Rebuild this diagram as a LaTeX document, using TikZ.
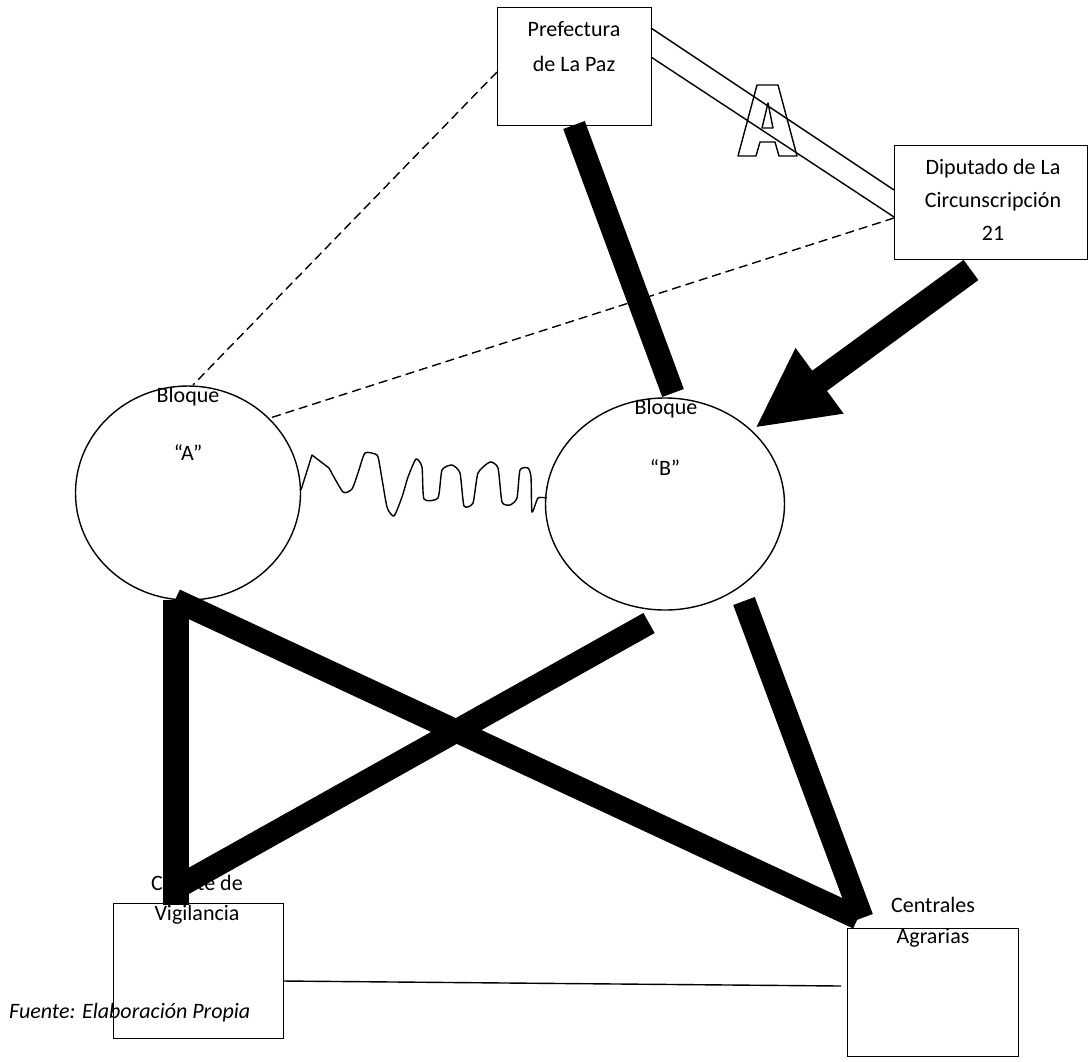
\documentclass[tikz,border=0pt]{standalone}
\usepackage{fontspec}
\setmainfont{Carlito}
\usetikzlibrary{arrows.meta,shapes.geometric}
\tikzset{
  box/.style={draw, line width=1.4pt, inner sep=0pt, anchor=north west},
  blob/.style={draw, ellipse, line width=1.4pt, inner sep=0pt},
  lbl/.style={inner sep=0pt, align=center},
  thinln/.style={line width=1.4pt},
  dashln/.style={line width=1.4pt, dash pattern=on 9pt off 5pt},
  bar/.style={line width=23pt, line cap=butt},
}
\begin{document}
\begin{tikzpicture}[x=1pt,y=-1pt]
\useasboundingbox (0,0) rectangle (1089,1061);
\fontsize{22}{26}\selectfont
% boxes
\node[box, minimum width=154pt, minimum height=118pt] (pref) at (497,7) {};
\node[box, minimum width=193pt, minimum height=114pt] (dip) at (894,145) {};
\node[box, minimum width=170pt, minimum height=135pt] (com) at (113,903) {};
\node[box, minimum width=171pt, minimum height=128pt] (cen) at (847,928) {};
% blocks
\node[blob, minimum width=225pt, minimum height=214pt] (A) at (188,493) {};
\node[blob, minimum width=239pt, minimum height=212pt] (B) at (665,504) {};
% texts
\node[lbl, font=\fontsize{22}{35}\selectfont] (tpref) at (574,47) {Prefectura\\de La Paz};
\node[lbl, font=\fontsize{22}{33}\selectfont] (tdip) at (993,200) {Diputado de La\\Circunscripción\\21};
\node[lbl, font=\fontsize{22}{31}\selectfont] (tcen) at (933,922) {Centrales\\Agrarias};
\node[lbl, font=\fontsize{22}{30}\selectfont] (tcom) at (197,900) {Comité de\\Vigilancia};
\node[lbl] (ta1) at (188,397) {Bloque};
\node[lbl] (ta2) at (188,453) {“A”};
\node[lbl] (tb1) at (666,409) {Bloque};
\node[lbl] (tb2) at (665,468) {“B”};
\node[lbl, anchor=west, font=\fontsize{22}{26}\selectfont\itshape] (src) at (9,1013) {Fuente: Elaboración Propia};
% coordinates
\coordinate (p1) at (497,72);
\coordinate (p2) at (651,28);
\coordinate (p3) at (651,57);
\coordinate (d1) at (894,190);
\coordinate (d2) at (894,217);
\coordinate (d3) at (894,218);
\coordinate (a1) at (193,385);
\coordinate (a2) at (270,418);
\coordinate (c1) at (283,981);
\coordinate (c2) at (841,986);
% thin connectors
\draw[dashln] (p1) -- (a1);
\draw[dashln] (d3) -- (a2);
\draw[thinln] (p2) -- (d1);
\draw[thinln] (p3) -- (d2);
\draw[thinln] (c1) -- (c2);
% outlined letter A
\draw[thinln, line join=round] (738,156) -- (757,85) -- (778,85) -- (797,156) -- (779,156) -- (775,142) -- (760,142) -- (756,156) -- cycle
  (762,128) -- (768,103) -- (773,128) -- cycle;
% squiggle
\draw[thinln, line join=round] (301,490) -- (312,455) -- (329,468)
  plot[smooth, tension=0.35] coordinates {
 (329,468) (343,492) (352,489) (358,473) (365,453) (377,455) (380,467)
 (387,507) (394,516) (402,497) (408,477) (416,459) (422,467) (424,499) (438,498) (442,470)
 (452,465) (460,473) (464,506) (473,503) (478,473) (490,462) (498,468) (502,502) (510,505)
 (517,498) (520,470) (528,468) (531,477) (532,512) (538,498) (547,498)};
% thick bars
\coordinate (b1) at (574,125);
\coordinate (b2) at (673,393);
\coordinate (q1) at (971,270);
\coordinate (q2) at (755,428);
\coordinate (v1) at (176,600);
\coordinate (v2) at (176,905);
\coordinate (x1) at (175,600);
\coordinate (x2) at (858,918);
\coordinate (y1) at (649,623);
\coordinate (y2) at (176,888);
\coordinate (z1) at (744,601);
\coordinate (z2) at (862,918);
\draw[bar] (b1) -- (b2);
\draw[line width=25pt, -{Triangle[length=80pt,width=75pt]}] (q1) -- (q2);
\draw[bar, line width=26pt] (v1) -- (v2);
\draw[bar] (x1) -- (x2);
\draw[bar] (y1) -- (y2);
\draw[bar] (z1) -- (z2);
\end{tikzpicture}
\end{document}
